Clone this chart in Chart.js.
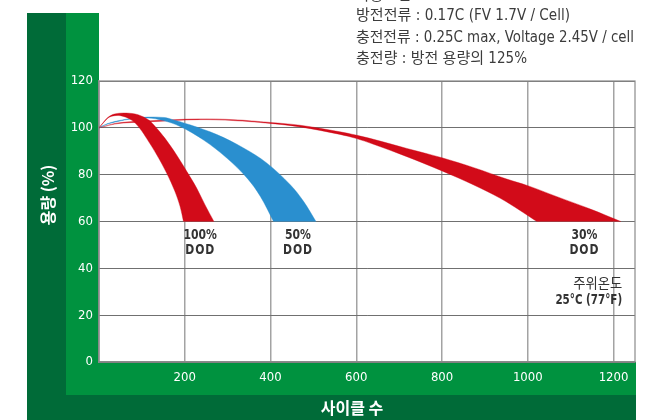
<!DOCTYPE html>
<html><head><meta charset="utf-8">
<script src="https://cdn.jsdelivr.net/npm/chart.js@4.4.1/dist/chart.umd.min.js"></script>
<style>html,body{margin:0;padding:0;background:#fff;overflow:hidden}#wrap{width:661px;height:420px;position:relative}</style>
</head><body><div id="wrap"><canvas id="c" width="661" height="420"></canvas></div>
<script>
// ---- data ----
const yTicks = [0, 20, 40, 60, 80, 100, 120];
const xTicks = [0, 200, 400, 600, 800, 1000, 1200];
const xMax = 1250;

const dod100UpperCycles = [0, 13, 21, 36, 64, 91, 114, 127, 154, 181, 205, 228, 247, 268];
const dod100UpperCap    = [100, 103, 104.5, 105.9, 106.3, 105.6, 103.6, 101.4, 95.5, 88.4, 81.3, 74.2, 67.2, 60];
const dod100LowerCycles = [197, 189, 177, 158, 135, 111, 95, 75, 50, 30, 21, 13, 0];
const dod100LowerCap    = [60, 66.5, 72.9, 80.6, 88.4, 95.5, 99.8, 103.4, 105.2, 105, 104.2, 102.7, 100];

const dod50UpperCycles = [0, 20, 44, 75, 114, 153, 170, 212, 275, 337, 391, 446, 477, 506];
const dod50UpperCap    = [100, 101.8, 103, 104, 104.6, 104.4, 103.6, 101.3, 97.1, 91.4, 85, 75.7, 68.6, 60];
const dod50LowerCycles = [407, 376, 345, 298, 243, 189, 150, 114, 75, 44, 20, 0];
const dod50LowerCap    = [60, 70.8, 78.6, 87.1, 94.9, 100.6, 103.1, 104.2, 103.8, 102.7, 101.6, 100];

const dod30UpperCycles = [0, 44, 119, 231, 313, 399, 469, 562, 599, 640, 718, 800, 874, 951, 1000, 1068, 1146, 1217];
const dod30UpperCap    = [100, 102.1, 103, 103.8, 103.5, 102.3, 101.1, 98.3, 96.9, 95.1, 91.2, 87.2, 83, 78.1, 75.3, 70.6, 65.3, 60];
const dod30LowerCycles = [1021, 982, 936, 874, 800, 718, 640, 599, 562, 469, 399, 313, 231, 119, 44, 0];
const dod30LowerCap    = [60, 64.7, 69.9, 75.6, 81.6, 87.7, 93, 95.5, 97.2, 100.4, 101.9, 103.1, 103.5, 102.6, 101.8, 100];

const conditionLines = ['사용조건', '방전전류 : 0.17C (FV 1.7V / Cell)', '충전전류 : 0.25C max, Voltage 2.45V / cell', '충전량 : 방전 용량의 125%'];
const yTitle = '용량 (%)';
const xTitle = '사이클 수';

// ---- build closed polygons (corner points repeated so the curve keeps sharp corners) ----
function band(uc, uv, lc, lv) {
  const up = uc.map((c, i) => ({x: c, y: uv[i]}));
  const lo = lc.map((c, i) => ({x: c, y: lv[i]}));
  return [...up, up[up.length - 1], lo[0], ...lo];
}
const RED = '#d20b19', BLUE = '#2a8fcf';
const NARROW = '"Liberation Sans Narrow","DejaVu Sans Condensed","Roboto","Noto Sans CJK KR",sans-serif';

const bgPlugin = {
  id: 'bg',
  beforeDraw(chart) {
    const ctx = chart.ctx;
    ctx.save();
    ctx.fillStyle = '#fff'; ctx.fillRect(0, 0, 661, 420);
    ctx.fillStyle = '#006b38';
    ctx.fillRect(27, 13, 609, 407);
    ctx.fillStyle = '#00923f';
    ctx.fillRect(66, 13, 570, 382);
    ctx.fillStyle = '#fff';
    const a = chart.chartArea;
    ctx.fillRect(a.left, 0, 661 - a.left, a.bottom);
    ctx.restore();
  },
  beforeDatasetsDraw(chart) {
    const ctx = chart.ctx, a = chart.chartArea;
    ctx.save();
    ctx.strokeStyle = '#8a8a8a'; ctx.lineWidth = 1.2;
    ctx.strokeRect(a.left, a.top, a.right - a.left, a.bottom - a.top);
    const y60 = chart.scales.y.getPixelForValue(60);
    ctx.beginPath();
    ctx.rect(a.left, 0, a.right - a.left, y60 + 0.3);
    ctx.clip();
  },
  afterDatasetsDraw(chart) {
    chart.ctx.restore();
  },
  afterDraw(chart) {
    const ctx = chart.ctx, sx = chart.scales.x, sy = chart.scales.y;
    ctx.save();
    // condition text
    ctx.fillStyle = '#3c3c3c';
    ctx.textBaseline = 'middle';
    ctx.textAlign = 'left';
    const widths = [55, 214, 278, 171];
    const ys = [-4, 16, 38, 59];
    conditionLines.forEach((t, i) => {
      ctx.font = '15px ' + NARROW;
      const w = ctx.measureText(t).width;
      const s = widths[i] / w;
      ctx.save(); ctx.translate(356, ys[i]); ctx.scale(s, 1); ctx.fillText(t, 0, 0); ctx.restore();
    });
    // axis titles
    ctx.fillStyle = '#fff';
    ctx.font = 'bold 16px "Noto Sans CJK KR",' + NARROW;
    ctx.textAlign = 'center';
    ctx.save(); ctx.translate(47, 195); ctx.rotate(-Math.PI / 2); ctx.fillText(yTitle, 0, 1); ctx.restore();
    ctx.fillText(xTitle, 352, 408);
    // in-plot labels
    ctx.fillStyle = '#333';
    const lab = (t, x, y, align, sp, k) => {
      ctx.letterSpacing = sp || '0px';
      const px = sx.getPixelForValue(x), py = sy.getPixelForValue(y);
      const s = k || 0.86;
      ctx.save(); ctx.translate(px, py); ctx.scale(s, 1);
      ctx.textAlign = align; ctx.fillText(t, 0, 0); ctx.restore();
    };
    ctx.font = 'bold 14px ' + NARROW;
    lab('100%', 236, 54.2, 'center'); lab('DOD', 236, 47.8, 'center', '1px');
    lab('50%', 464, 54.2, 'center'); lab('DOD', 464, 47.8, 'center', '1px');
    lab('30%', 1132, 54.2, 'center'); lab('DOD', 1132, 47.8, 'center', '1px');
    ctx.letterSpacing = '0px';
    ctx.font = '14px "Noto Sans CJK KR",' + NARROW;
    lab('주위온도', 1220, 33.7, 'right', '0px', 0.95);
    ctx.font = 'bold 14px ' + NARROW;
    lab('25°C (77°F)', 1220, 26.5, 'right', '0px', 0.82);
    ctx.restore();
  }
};

const ds = (data, color) => ({
  data, backgroundColor: color, borderColor: color, borderWidth: 0.4,
  fill: 'shape', tension: 0.35, pointRadius: 0, showLine: true
});

new Chart(document.getElementById('c'), {
  type: 'line',
  data: {
    datasets: [
      ds(band(dod100UpperCycles, dod100UpperCap, dod100LowerCycles, dod100LowerCap), RED),
      ds(band(dod50UpperCycles, dod50UpperCap, dod50LowerCycles, dod50LowerCap), BLUE),
      ds(band(dod30UpperCycles, dod30UpperCap, dod30LowerCycles, dod30LowerCap), RED)
    ]
  },
  options: {
    responsive: false, animation: false, devicePixelRatio: 1,
    layout: { padding: { left: 59, top: 81, right: 26, bottom: 18 } },
    plugins: { legend: { display: false }, tooltip: { enabled: false } },
    scales: {
      x: {
        type: 'linear', min: 0, max: xMax,
        afterBuildTicks: s => { s.ticks = xTicks.map(v => ({ value: v })); },
        afterFit: s => { s.height = 40; },
        grid: { color: '#a3a3a3', lineWidth: 1.5, drawTicks: false },
        border: { display: true, color: '#8a8a8a', width: 1.2 },
        ticks: { color: '#fff', padding: 8, maxRotation: 0, font: { family: NARROW, size: 13 },
          callback: v => (v === 0 ? '' : String(v)) }
      },
      y: {
        min: 0, max: 120,
        afterBuildTicks: s => { s.ticks = yTicks.map(v => ({ value: v })); },
        afterFit: s => { s.width = 40; },
        grid: { color: '#707070', lineWidth: 1, drawTicks: false },
        border: { display: true, color: '#8a8a8a', width: 1.2 },
        ticks: { color: '#fff', padding: 6, font: { family: NARROW, size: 13 } }
      }
    }
  },
  plugins: [bgPlugin]
});
</script></body></html>
